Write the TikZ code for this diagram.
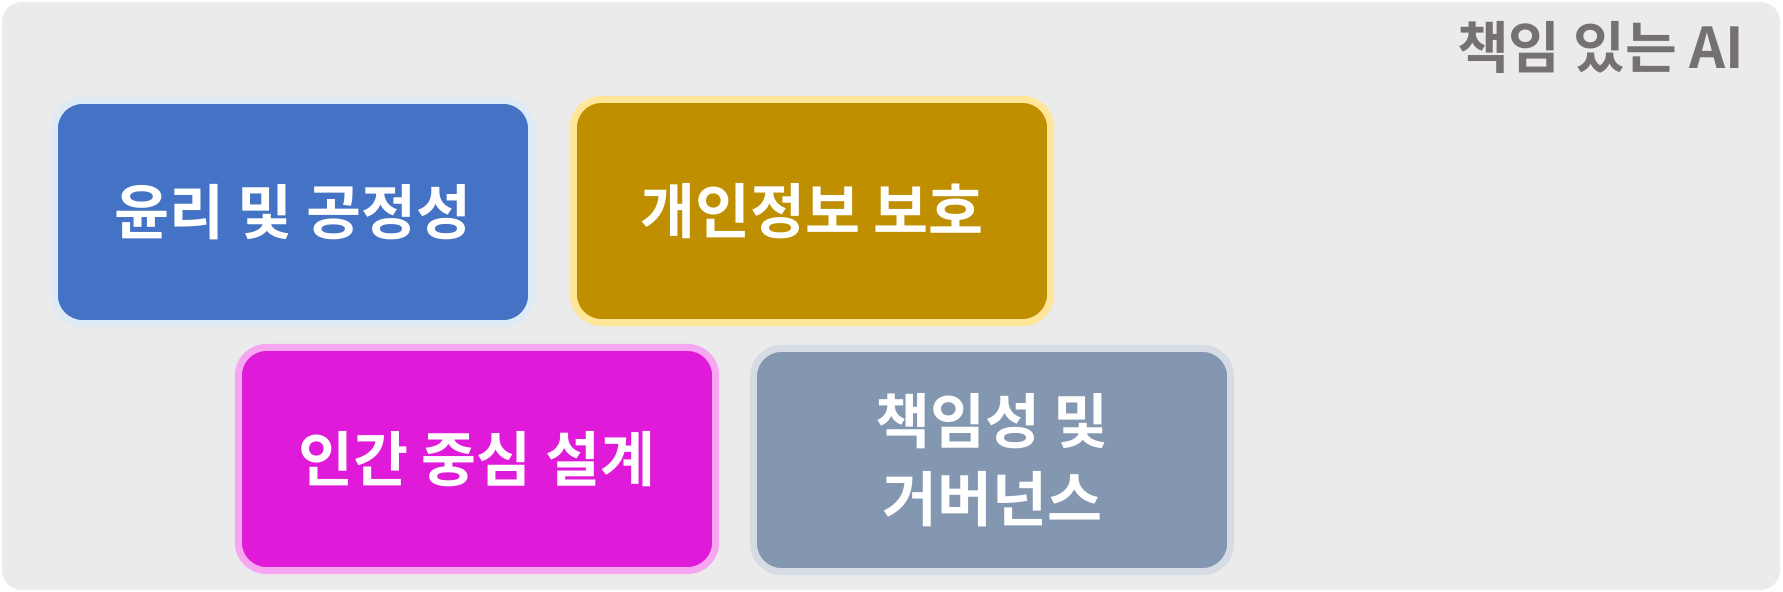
\documentclass[tikz,border=0pt]{standalone}
\usepackage{fontspec}
\newfontfamily\korfont{Noto Sans CJK KR}[BoldFont={Noto Sans CJK KR Bold}]
\usepackage{tikz}
\usetikzlibrary{positioning}
\definecolor{cardbg}{HTML}{EBEBEB}
\definecolor{titlegray}{HTML}{767171}
\definecolor{ethicsfill}{HTML}{4472C4}
\definecolor{ethicsline}{HTML}{DDEBF7}
\definecolor{privacyfill}{HTML}{BF8F00}
\definecolor{privacyline}{HTML}{FFE699}
\definecolor{humanfill}{HTML}{DF1BD9}
\definecolor{humanline}{HTML}{F7A6F2}
\definecolor{accountfill}{HTML}{8497B0}
\definecolor{accountline}{HTML}{D6DCE4}
\tikzset{
  blockbox/.style={rectangle, rounded corners=0.28cm, line width=0.07cm,
    minimum width=4.77cm, minimum height=2.23cm, text=white, align=center,
    font=\korfont\bfseries\fontsize{17}{22}\selectfont},
  titletext/.style={text=titlegray, inner sep=0pt,
    font=\korfont\bfseries\fontsize{16}{20}\selectfont}
}
\begin{document}
\begin{tikzpicture}[x=0.01cm, y=-0.01cm]
\useasboundingbox (0,0) rectangle (1783,592);
\fill[white] (0,0) rectangle (1783,592);
\fill[cardbg, rounded corners=0.2cm] (2,2) rectangle (1780,590);
% title
\node[titletext, anchor=east] (title) at (1745,47) {책임 있는 AI};
% four blocks
\node[blockbox, fill=ethicsfill, draw=ethicsline] (ethics) at (293,212) {윤리 및 공정성};
\node[blockbox, fill=privacyfill, draw=privacyline] (privacy) at (812,211) {개인정보 보호};
\node[blockbox, fill=humanfill, draw=humanline] (human) at (477,459) {인간 중심 설계};
\node[blockbox, fill=accountfill, draw=accountline] (account) at (992,460) {책임성 및\\거버넌스};
\end{tikzpicture}
\end{document}
